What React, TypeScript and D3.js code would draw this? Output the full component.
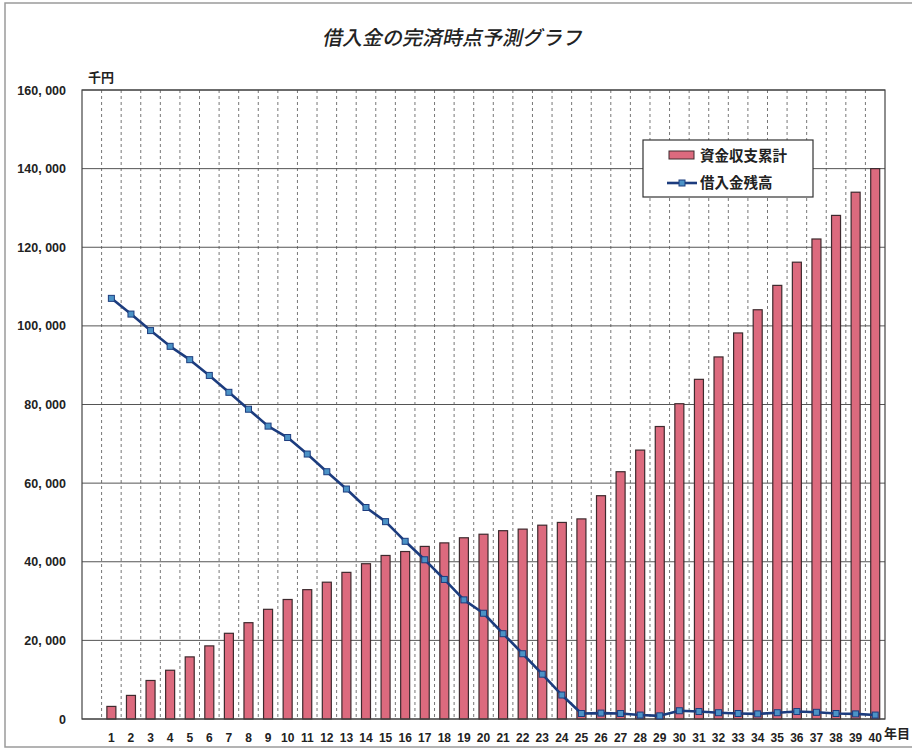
import React from "react";
import * as d3 from "d3";

// 年目 (1〜40)
const years: number[] = Array.from({ length: 40 }, (_, i) => i + 1);

// 資金収支累計 (千円)
const cumulativeCash: number[] = [
  3200, 6000, 9800, 12400, 15800, 18600, 21800, 24500, 27900, 30400,
  32900, 34800, 37300, 39500, 41600, 42600, 43900, 44800, 46100, 47000,
  47900, 48300, 49300, 50000, 50900, 56800, 62900, 68400, 74400, 80200,
  86400, 92100, 98200, 104100, 110300, 116200, 122100, 128100, 134000, 140000,
];

// 借入金残高 (千円)
const loanBalance: number[] = [
  107000, 103000, 98800, 94800, 91400, 87400, 83100, 78800, 74500, 71600,
  67400, 62900, 58500, 53800, 50200, 45200, 40500, 35500, 30300, 26900,
  21700, 16600, 11400, 6100, 1400, 1500, 1400, 1000, 800, 2100,
  1900, 1600, 1400, 1300, 1600, 1900, 1700, 1400, 1300, 1000,
];

const yTicks: number[] = [0, 20000, 40000, 60000, 80000, 100000, 120000, 140000, 160000];

const W = 912;
const H = 749;
const plot = { left: 82, right: 885, top: 90, bottom: 719 };

const BAR_FILL = "#dc6a7e";
const BAR_STROKE = "#3e2a2e";
const LINE_COLOR = "#1c3c7e";
const MARKER_FILL = "#4b92c6";
const TEXT = "#222";
const JP = "'Noto Sans CJK JP', 'Noto Sans', sans-serif";
const NUM = "'Liberation Sans', Arial, sans-serif";

export default function App() {
  // category 0 is an empty slot in front of year 1
  const x = d3
    .scaleBand<number>()
    .domain([0, ...years])
    .range([plot.left, plot.right])
    .paddingInner(0.54)
    .paddingOuter(0.27);
  const step = x.step();
  const slotLeft = (d: number) => plot.left + d * step;
  const center = (d: number) => slotLeft(d) + step / 2;
  const barW = 9;

  const y = d3.scaleLinear().domain([0, 160000]).range([plot.bottom, plot.top]);

  const fmt = (v: number) => d3.format(",")(v).replace(/,/g, ", ");

  const line = d3
    .line<number>()
    .x((_, i) => center(years[i]))
    .y((v) => y(v));

  const boundaries = d3.range(1, years.length + 1);

  return (
    <svg
      width={W}
      height={H}
      style={{ position: "absolute", left: 0, top: 0, background: "#fff" }}
    >
      {/* outer chart frame */}
      <rect x={5} y={3} width={W + 10} height={H - 5} fill="#fff" stroke="#9a9a9a" strokeWidth={1.5} />

      {/* title */}
      <text
        x={452}
        y={45}
        textAnchor="middle"
        fontFamily={JP}
        fontSize={20}
        fontWeight={500}
        transform="skewX(-12) translate(9.5,0)"
        fill={TEXT}
      >
        借入金の完済時点予測グラフ
      </text>

      {/* unit */}
      <text x={88} y={82} fontFamily={JP} fontSize={13} fontWeight={700} fill={TEXT}>
        千円
      </text>

      {/* vertical dashed grid at category boundaries */}
      {boundaries.map((k) => (
        <line
          key={`v${k}`}
          x1={slotLeft(k)}
          x2={slotLeft(k)}
          y1={plot.top}
          y2={plot.bottom}
          stroke="#777"
          strokeWidth={1}
          strokeDasharray="3,3"
        />
      ))}

      {/* horizontal grid */}
      {yTicks.map((t) => (
        <line
          key={`h${t}`}
          x1={plot.left}
          x2={plot.right}
          y1={y(t)}
          y2={y(t)}
          stroke="#555"
          strokeWidth={1}
        />
      ))}

      {/* bars */}
      {years.map((yr, i) => (
        <rect
          key={`b${yr}`}
          x={center(yr) - barW / 2}
          y={y(cumulativeCash[i])}
          width={barW}
          height={plot.bottom - y(cumulativeCash[i])}
          fill={BAR_FILL}
          stroke={BAR_STROKE}
          strokeWidth={1.2}
        />
      ))}

      {/* plot border */}
      <rect
        x={plot.left}
        y={plot.top}
        width={plot.right - plot.left}
        height={plot.bottom - plot.top}
        fill="none"
        stroke="#444"
        strokeWidth={1.2}
      />

      {/* loan balance line */}
      <path d={line(loanBalance) || ""} fill="none" stroke={LINE_COLOR} strokeWidth={2.6} strokeLinejoin="round" />
      {years.map((yr, i) => (
        <rect
          key={`m${yr}`}
          x={center(yr) - 3}
          y={y(loanBalance[i]) - 3}
          width={6}
          height={6}
          fill={MARKER_FILL}
          stroke={LINE_COLOR}
          strokeWidth={1}
        />
      ))}

      {/* y tick labels */}
      {yTicks.map((t) => (
        <text
          key={`yl${t}`}
          x={66}
          y={y(t) + 4.5}
          textAnchor="end"
          fontFamily={NUM}
          fontSize={12.5}
          fontWeight={700}
          fill={TEXT}
        >
          {fmt(t)}
        </text>
      ))}

      {/* x tick labels */}
      {years.map((yr) => (
        <text
          key={`xl${yr}`}
          x={center(yr)}
          y={742}
          textAnchor="middle"
          fontFamily={NUM}
          fontSize={12}
          fontWeight={700}
          fill={TEXT}
        >
          {yr}
        </text>
      ))}
      <text x={884} y={738} fontFamily={JP} fontSize={13} fontWeight={700} fill={TEXT}>
        年目
      </text>

      {/* legend */}
      <g>
        <rect x={643} y={140} width={170} height={57} fill="#fff" stroke="#333" strokeWidth={1.2} />
        <rect x={669} y={151} width={25} height={8} fill={BAR_FILL} stroke={BAR_STROKE} strokeWidth={1} />
        <text x={700} y={160.5} fontFamily={JP} fontSize={14.5} fontWeight={700} fill={TEXT}>
          資金収支累計
        </text>
        <line x1={667} x2={697} y1={183} y2={183} stroke={LINE_COLOR} strokeWidth={2.6} />
        <rect x={679} y={180} width={6} height={6} fill={MARKER_FILL} stroke={LINE_COLOR} strokeWidth={1} />
        <text x={700} y={188} fontFamily={JP} fontSize={14.5} fontWeight={700} fill={TEXT}>
          借入金残高
        </text>
      </g>
    </svg>
  );
}
